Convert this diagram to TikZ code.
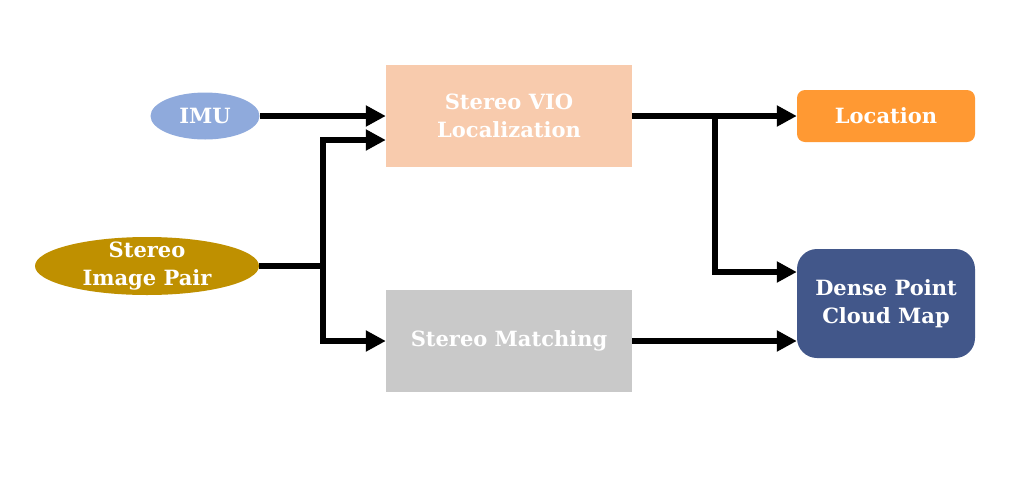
\documentclass[tikz,border=0pt]{standalone}
\usepackage{fontspec}
\setmainfont{DejaVu Serif}
\usetikzlibrary{arrows.meta,shapes.geometric}
\definecolor{imucol}{HTML}{8FAADC}
\definecolor{paircol}{HTML}{BF9000}
\definecolor{viocol}{HTML}{F8CBAD}
\definecolor{matchcol}{HTML}{C9C9C9}
\definecolor{loccol}{HTML}{FF9933}
\definecolor{densecol}{HTML}{42578A}
\tikzset{
  lbl/.style={text=white,font=\bfseries\fontsize{21}{28}\selectfont,align=center,inner sep=0pt},
  ell/.style={ellipse,lbl,minimum width=#1},
  rbox/.style={rectangle,lbl},
  conn/.style={line width=6.5pt,-{Triangle[length=20pt,width=20pt]}},
  seg/.style={line width=6.5pt},
}
\begin{document}
\begin{tikzpicture}[x=1pt,y=-1pt]
\useasboundingbox (0,0) rectangle (1024,480);
\node[ell=109pt,minimum height=47pt,fill=imucol] (imu) at (205,116) {IMU};
\node[ell=224pt,minimum height=58pt,fill=paircol,
      label={[lbl]center:{Stereo\\Image Pair}}] (pair) at (147,266) {};
\node[rbox,fill=viocol,minimum width=246pt,minimum height=102pt] (vio) at (509,116) {Stereo VIO\\Localization};
\node[rbox,fill=matchcol,minimum width=246pt,minimum height=102pt] (match) at (509,341) {Stereo Matching};
\node[rbox,fill=loccol,minimum width=178pt,minimum height=52pt,rounded corners=8pt] (loc) at (886,116) {Location};
\node[rbox,fill=densecol,minimum width=178pt,minimum height=109pt,rounded corners=20pt] (dense) at (886,303.5) {Dense Point\\Cloud Map};
\coordinate (j1) at (323,266);
\coordinate (j2) at (715,116);
\draw[conn] (imu.east) -- (vio.west |- imu.east);
\draw[seg] (pair.east) -- (j1);
\draw[conn] (j1) |- ([yshift=-24pt]vio.west);
\draw[conn] (j1) |- (match.west);
\draw[conn] (vio.east) -- (loc.west);
\draw[conn] (j2) |- ([yshift=31.5pt]dense.west);
\draw[conn] (match.east) -- (dense.west |- match.east);
\end{tikzpicture}
\end{document}
